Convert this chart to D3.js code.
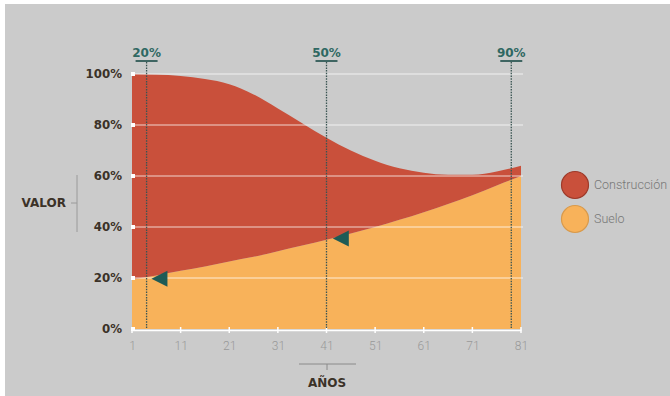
<!DOCTYPE html>
<html>
<head>
<meta charset="utf-8">
<script src="https://cdn.jsdelivr.net/npm/d3@7"></script>
<style>
  html, body { margin: 0; padding: 0; background: #ffffff; }
  svg { display: block; }
</style>
</head>
<body>
<svg id="chart" width="670" height="396"></svg>
<script>
// Años de vida del inmueble
const years = [1, 6, 11, 16, 21, 26, 31, 36, 41, 46, 51, 56, 61, 66, 71, 76, 81];
// Porcentaje del valor que corresponde al suelo
const suelo = [19.5, 21, 22.8, 24.5, 26.5, 28.3, 30.5, 32.7, 35, 37.5, 40, 42.8, 45.8, 49, 52.5, 56.3, 60];
// Porcentaje del valor que corresponde a la construcción
const construccion = [80.5, 78.8, 76.4, 73.5, 69.5, 63.7, 56, 48, 40, 32.5, 26, 20.2, 15.5, 11.5, 8, 5.5, 4];

const yTicks = [0, 20, 40, 60, 80, 100];
const xTicks = [1, 11, 21, 31, 41, 51, 61, 71, 81];
const markerYears = [4, 41, 79];
const markerLabels = ["20%", "50%", "90%"];
const arrowYears = [5, 42.3];
const arrowValues = [19.7, 35.5];
const seriesNames = ["Construcción", "Suelo"];

const colors = { construccion: "#c9503b", suelo: "#f8b25a" };

const svg = d3.select("#chart");

// fondo gris con un borde blanco fino arriba y a la izquierda
svg.append("rect").attr("x", 5).attr("y", 4).attr("width", 665).attr("height", 392).attr("fill", "#cbcbcb");

const x = d3.scaleLinear().domain([1, 81]).range([132, 521]);
const y = d3.scaleLinear().domain([0, 100]).range([329, 74]);

const rows = years.map((yr, i) => ({ year: yr, suelo: suelo[i], construccion: construccion[i] }));
const stack = d3.stack().keys(["suelo", "construccion"]);
const layers = stack(rows);

const area = d3.area()
  .x(d => x(d.data.year))
  .y0(d => y(d[0]))
  .y1(d => y(d[1]))
  .curve(d3.curveMonotoneX);

svg.append("g").selectAll("path")
  .data(layers)
  .join("path")
  .attr("d", area)
  .attr("fill", d => colors[d.key]);

// líneas de referencia horizontales
const grid = svg.append("g");
grid.selectAll("line")
  .data(yTicks.filter(t => t > 0))
  .join("line")
  .attr("x1", x(1)).attr("x2", x(81) + 2)
  .attr("y1", d => y(d)).attr("y2", d => y(d))
  .attr("stroke", "#ffffff").attr("stroke-opacity", 0.5).attr("stroke-width", 1.3);
grid.selectAll("rect")
  .data(yTicks)
  .join("rect")
  .attr("x", x(1) - 1).attr("y", d => y(d) - 2)
  .attr("width", 4).attr("height", 4)
  .attr("fill", "#ffffff");

// eje de años
const xAxis = d3.axisBottom(x).tickValues(xTicks).tickSize(0).tickPadding(11);
const gx = svg.append("g").attr("transform", `translate(0,${y(0) + 1})`).call(xAxis);
gx.select(".domain").attr("stroke", "#ffffff").attr("stroke-width", 1.5);
gx.selectAll("text")
  .attr("fill", "#999999")
  .style("font-family", "Roboto, 'Liberation Sans', sans-serif")
  .style("font-weight", 300)
  .style("font-size", "12px");
svg.append("g").selectAll("line")
  .data(xTicks)
  .join("line")
  .attr("x1", d => x(d)).attr("x2", d => x(d))
  .attr("y1", y(0) - 2).attr("y2", y(0) + 4)
  .attr("stroke", "#ffffff").attr("stroke-width", 1.5);

// eje de valor
const yAxis = d3.axisLeft(y).tickValues(yTicks).tickSize(0).tickPadding(10).tickFormat(d => d + "%");
const gy = svg.append("g").attr("transform", `translate(${x(1)},0)`).call(yAxis);
gy.select(".domain").remove();
gy.selectAll("text")
  .attr("fill", "#3b3228")
  .style("font-family", "'DejaVu Sans', sans-serif")
  .style("font-weight", "bold")
  .style("font-size", "11.8px");

// líneas punteadas verticales con su porcentaje
const marks = svg.append("g");
markerYears.forEach((yr, i) => {
  const mx = x(yr);
  marks.append("line")
    .attr("x1", mx).attr("x2", mx)
    .attr("y1", 62).attr("y2", y(0))
    .attr("stroke", "#3a5553").attr("stroke-width", 1.3)
    .attr("stroke-dasharray", "1.5,1.2");
  marks.append("line")
    .attr("x1", mx - 11).attr("x2", mx + 11)
    .attr("y1", 61).attr("y2", 61)
    .attr("stroke", "#3f6562").attr("stroke-width", 2);
  marks.append("text")
    .attr("x", mx).attr("y", 57)
    .attr("text-anchor", "middle")
    .attr("fill", "#2f6862")
    .style("font-family", "'DejaVu Sans', sans-serif")
    .style("font-weight", "bold")
    .style("font-size", "12px")
    .text(markerLabels[i]);
});

// flechas sobre la curva del suelo
svg.append("g").selectAll("path")
  .data(arrowYears.map((yr, i) => ({ year: yr, value: arrowValues[i] })))
  .join("path")
  .attr("d", d => {
    const px = x(d.year), py = y(d.value);
    return `M${px},${py}L${px + 16},${py - 8}L${px + 16},${py + 8}Z`;
  })
  .attr("fill", "#1e5b56");

// títulos de los ejes con sus corchetes
const axisFont = sel => sel
  .attr("fill", "#3b3228")
  .style("font-family", "'DejaVu Sans', sans-serif")
  .style("font-weight", "bold")
  .style("font-size", "12px");

svg.append("text").attr("x", 66).attr("y", 207).attr("text-anchor", "end").text("VALOR").call(axisFont);
svg.append("line").attr("x1", 77).attr("x2", 77).attr("y1", 175).attr("y2", 232).attr("stroke", "#9a9a9a").attr("stroke-width", 1);
svg.append("line").attr("x1", 71).attr("x2", 77).attr("y1", 203).attr("y2", 203).attr("stroke", "#9a9a9a").attr("stroke-width", 1);

svg.append("text").attr("x", 327).attr("y", 387).attr("text-anchor", "middle").text("AÑOS").call(axisFont);
svg.append("line").attr("x1", 299).attr("x2", 356).attr("y1", 364).attr("y2", 364).attr("stroke", "#8a8a8a").attr("stroke-width", 1);
svg.append("line").attr("x1", 327).attr("x2", 327).attr("y1", 364).attr("y2", 370).attr("stroke", "#8a8a8a").attr("stroke-width", 1);

// leyenda
const legend = svg.append("g");
const legendColors = [colors.construccion, colors.suelo];
const legendStroke = ["#9e3a2a", "#d89a4c"];
seriesNames.forEach((name, i) => {
  const cy = 185 + i * 34;
  legend.append("circle")
    .attr("cx", 575).attr("cy", cy).attr("r", 13.5)
    .attr("fill", legendColors[i])
    .attr("stroke", legendStroke[i]).attr("stroke-width", 1.2);
  legend.append("text")
    .attr("x", 594).attr("y", cy + 4)
    .attr("fill", "#777777")
    .style("font-family", "Roboto, 'Liberation Sans', sans-serif")
    .style("font-weight", 300)
    .style("font-size", "12.5px")
    .text(name);
});
</script>
</body>
</html>
